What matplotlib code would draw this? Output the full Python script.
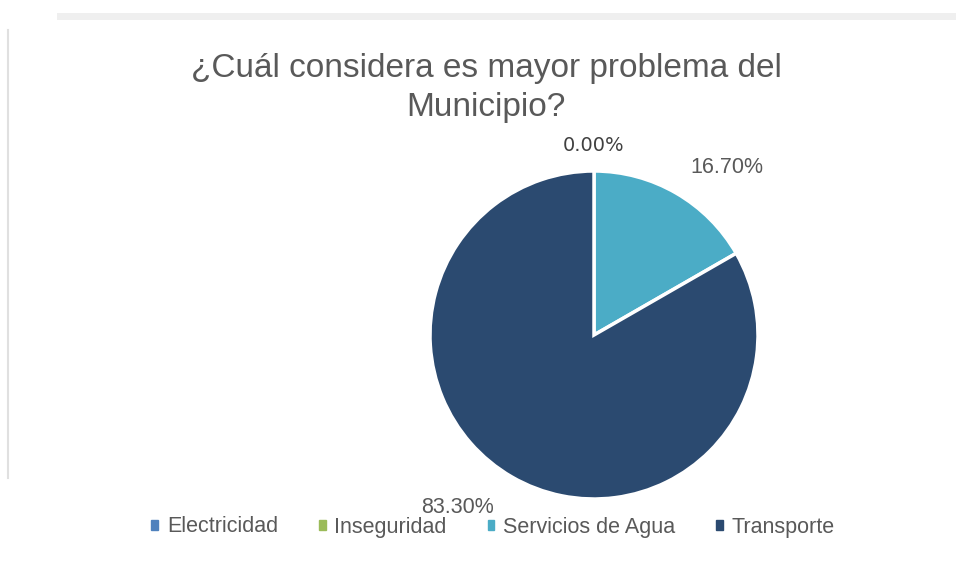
import matplotlib.pyplot as plt
from matplotlib.lines import Line2D
from matplotlib.patches import Rectangle

categories = ['Electricidad', 'Inseguridad', 'Servicios de Agua', 'Transporte']
values = [0.0, 0.0, 16.7, 83.3]
colors = ['#4F81BD', '#9BBB59', '#4BACC6', '#2B4A70']
title = '¿Cuál considera es mayor problema del\nMunicipio?'

plt.rcParams['font.family'] = ['Liberation Sans', 'DejaVu Sans']
text_color = '#595959'

fig = plt.figure(figsize=(9.56, 5.63), dpi=100)
W, H = 956, 563

# faint frame bits seen in the screenshot
fig.add_artist(Line2D([60 / W, 1], [1 - 16 / H, 1 - 16 / H], color='#efefef', lw=5))
fig.add_artist(Line2D([8 / W, 8 / W], [1 - 30 / H, 1 - 478 / H], color='#e0e0e0', lw=1.5))

# pie centre (594, 335) px, radius 164 px
cx, cy, r = 594, 335, 164
ax = fig.add_axes([(cx - r) / W, 1 - (cy + r) / H, 2 * r / W, 2 * r / H])
wedges, _ = ax.pie(values, colors=colors, startangle=90, counterclock=False,
                   wedgeprops=dict(edgecolor='white', linewidth=2.5))
ax.set_xlim(-1, 1)
ax.set_ylim(-1, 1)
ax.set_aspect('equal')

# data labels (positions picked to match the original layout)
label_pos = {0: (0.0, 1.155), 2: (0.81, 1.02), 3: (-0.83, -1.05)}
for i, (x, y) in label_pos.items():
    if i == 0:
        ax.text(x, y, f'{values[i]:.2f}%', ha='center', va='center', fontsize=14,
                color='#404040', family='DejaVu Sans', clip_on=False)
    else:
        ax.text(x, y, f'{values[i]:.2f}%', ha='center', va='center', fontsize=15.5,
                color=text_color, clip_on=False)

fig.text(486 / W, 1 - 88 / H, title, ha='center', va='center', fontsize=24,
         color=text_color, linespacing=1.3)

handles = [Rectangle((0, 0), 1, 1, color=c) for c in colors]
fig.legend(handles, categories, loc='center', bbox_to_anchor=(493 / W, 1 - 527 / H),
           ncol=4, frameon=False, fontsize=15.5, handlelength=0.32, handleheight=0.32,
           handletextpad=0.4, columnspacing=1.9, labelcolor=text_color)

fig.savefig('out.png', dpi=100, facecolor='white')
